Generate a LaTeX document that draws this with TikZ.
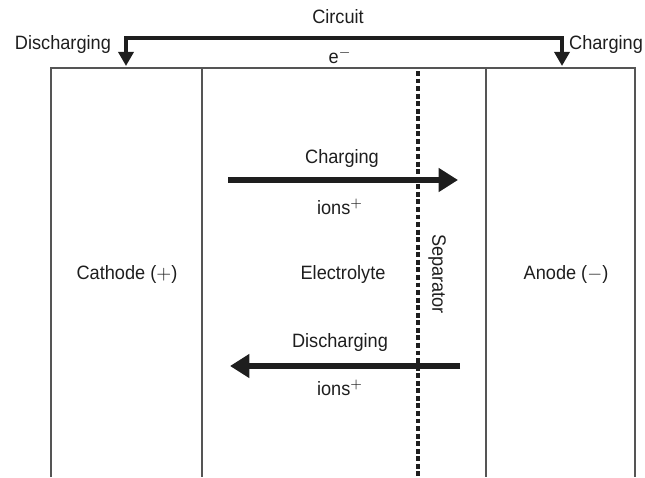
\documentclass[tikz,border=0pt]{standalone}
\usepackage{fontspec}
\setmainfont{Liberation Sans}[FakeStretch=0.94]
\usetikzlibrary{positioning, arrows.meta}
\definecolor{inkC}{RGB}{30, 30, 30}
\definecolor{wallC}{RGB}{85, 85, 85}

\tikzset{
  lbl/.style={font=\fontsize{11}{13}\selectfont, text=inkC, inner sep=1pt},
  wall/.style={wallC, line width=0.75pt},
  flow/.style={inkC, line width=3pt, -{Triangle[length=11pt, width=13pt]}},
  wire/.style={inkC, line width=2.4pt, -{Triangle[length=8pt, width=8.5pt]}},
  sep/.style={inkC, line width=2.8pt, dash pattern=on 2.8pt off 1.5pt}
}

\begin{document}
\begin{tikzpicture}[x=0.02cm, y=-0.02cm]
  \useasboundingbox (0,0) rectangle (645,477);

  % Cell walls, open at the bottom
  \draw[wall] (51,477) -- (51,68) -- (635,68) -- (635,477);
  \draw[wall] (202,68) -- (202,477);
  \draw[wall] (486,68) -- (486,477);

  % Separator
  \draw[sep] (418,71) -- (418,477);

  % External circuit
  \coordinate (cL) at (126,66);
  \coordinate (cR) at (562,66);
  \draw[wire] (340,38) -| (cL);
  \draw[wire] (340,38) -| (cR);
  \node[lbl] (circuit) at (338,17) {Circuit};
  \node[lbl] (eminus) at (340,56) {e$^{-}$};
  \node[lbl, anchor=east] (dischg) at (113,44) {Discharging};
  \node[lbl, anchor=east] (chg) at (645,44) {Charging};

  % Regions
  \node[lbl] (cathode) at (127,274) {Cathode ($+$)};
  \node[lbl] (electrolyte) at (343,274) {Electrolyte};
  \node[lbl] (anode) at (566,274) {Anode ($-$)};
  \node[lbl, rotate=-90] (separator) at (437,274) {Separator};

  % Ion flow
  \coordinate (inA) at (228,180);
  \coordinate (inB) at (458,180);
  \draw[flow] (inA) -- (inB);
  \node[lbl] (chgtop) at (342,158) {Charging};
  \node[lbl] (ionstop) at (340,207) {ions$^{+}$};

  \coordinate (outA) at (460,366);
  \coordinate (outB) at (230,366);
  \draw[flow] (outA) -- (outB);
  \node[lbl] (dchgbot) at (340,342) {Discharging};
  \node[lbl] (ionsbot) at (340,388) {ions$^{+}$};
\end{tikzpicture}
\end{document}
